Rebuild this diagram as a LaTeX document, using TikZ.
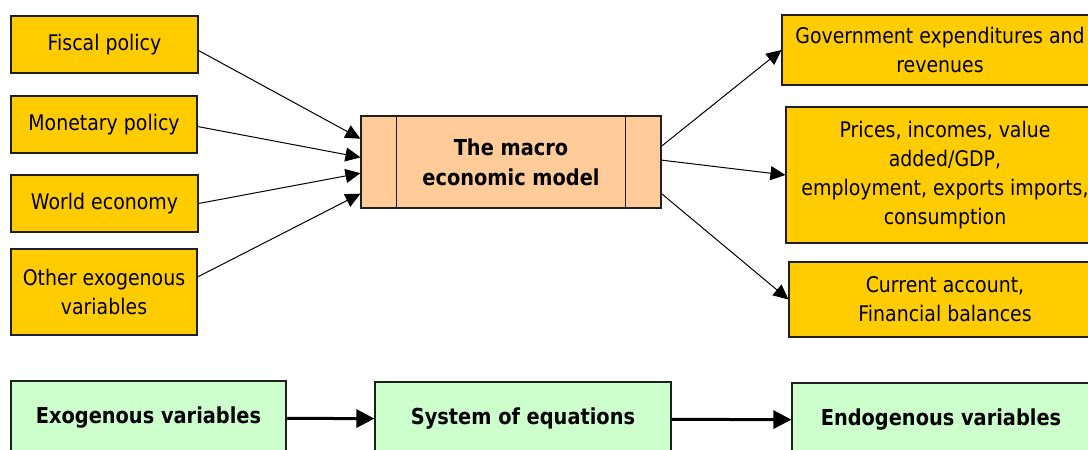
\documentclass[tikz,border=0pt]{standalone}
\usepackage{fontspec}
\setmainfont{DejaVu Sans}[FakeStretch=0.88]
\usetikzlibrary{arrows.meta, calc, positioning}
\definecolor{mGold}{HTML}{FFCC00}
\definecolor{mPeach}{HTML}{FFCC99}
\definecolor{mMint}{HTML}{CCFFCC}
\definecolor{mEdge}{HTML}{1F1F1F}

\begin{document}
\begin{tikzpicture}[x=1pt, y=-1pt,
    box/.style={draw=mEdge, line width=1.1pt, align=center, inner sep=0pt,
                font=\fontsize{21.5}{29}\selectfont},
    inbox/.style={box, fill=mGold},
    modelbox/.style={box, fill=mPeach, font=\fontsize{22}{30}\selectfont\bfseries},
    flowbox/.style={box, fill=mMint, font=\fontsize{22}{29}\selectfont\bfseries},
    link/.style={-{Triangle[length=15pt, width=14pt]}, line width=1pt, black},
    flow/.style={-{Triangle[length=18pt, width=18pt]}, line width=3pt, black}]
  \useasboundingbox (0,0) rectangle (1088,450);
  \clip (0,0) rectangle (1088,450);

  % exogenous inputs
  \node[inbox, minimum width=187pt, minimum height=57pt] (fiscal) at (104.5,44.5) {Fiscal policy};
  \node[inbox, minimum width=186pt, minimum height=57pt] (monetary) at (104,124.5) {Monetary policy};
  \node[inbox, minimum width=187pt, minimum height=57pt] (world) at (104.5,203.5) {World economy};
  \node[inbox, minimum width=186pt, minimum height=86pt] (other) at (104,292) {Other exogenous\\variables};

  % the model
  \node[modelbox, minimum width=300pt, minimum height=92pt] (model) at (511,162) {The macro\\economic model};
  \draw[mEdge, line width=1.1pt] ($(model.north west)+(36,0)$) -- ($(model.south west)+(36,0)$);
  \draw[mEdge, line width=1.1pt] ($(model.north east)+(-36,0)$) -- ($(model.south east)+(-36,0)$);

  % endogenous outputs
  \node[inbox, minimum width=316pt, minimum height=70pt] (gov) at (940,50) {Government expenditures and\\revenues};
  \node[inbox, minimum width=318pt, minimum height=136pt] (prices) at (945,175) {Prices, incomes, value\\added/GDP,\\employment, exports imports,\\consumption};
  \node[inbox, minimum width=312pt, minimum height=75pt] (current) at (945,299.5) {Current account,\\Financial balances};

  \draw[link] ([yshift=-6pt]fiscal.east) -- ($(model.north west)!0.25!(model.south west)$);
  \draw[link] ([yshift=-2pt]monetary.east) -- ($(model.north west)!0.45!(model.south west)$);
  \draw[link] (world.east) -- ($(model.north west)!0.62!(model.south west)$);
  \draw[link] ([yshift=15pt]other.east) -- ($(model.north west)!0.84!(model.south west)$);

  \draw[link] ($(model.north east)!0.33!(model.south east)$) -- (gov.west);
  \draw[link] ($(model.north east)!0.48!(model.south east)$) -- (prices.west);
  \draw[link] ($(model.north east)!0.84!(model.south east)$) -- (current.west);

  % summary flow
  \node[flowbox, minimum width=275pt, minimum height=74pt] (exo) at (148.5,418) {Exogenous variables};
  \node[flowbox, minimum width=296pt, minimum height=74pt] (sys) at (523,419) {System of equations};
  \node[flowbox, minimum width=298pt, minimum height=74pt] (endo) at (941,420) {Endogenous variables};

  \draw[flow] (exo) -- (sys);
  \draw[flow] (sys) -- (endo);
\end{tikzpicture}
\end{document}
